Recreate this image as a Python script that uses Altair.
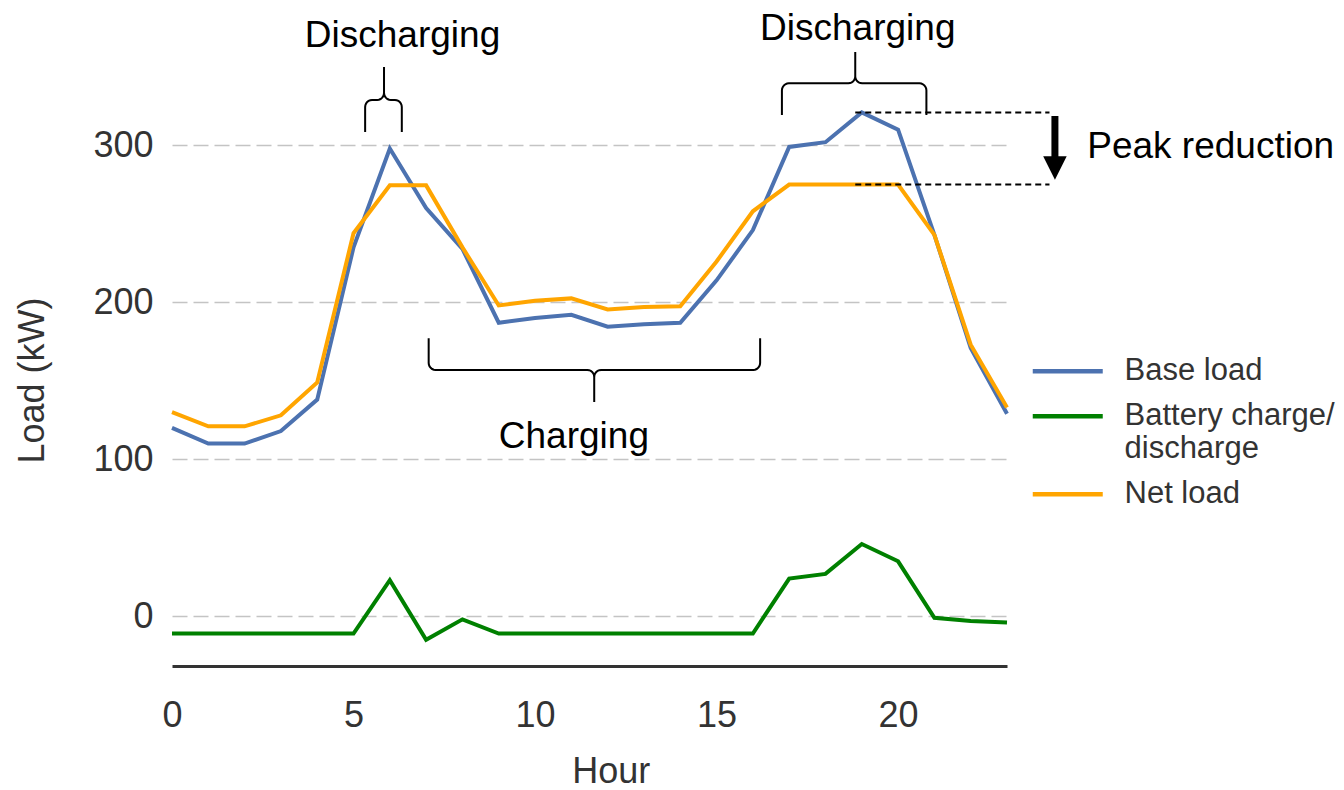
import math
import altair as alt
import pandas as pd

# ---------------- data ----------------
hours = list(range(24))
base_load = [120, 110, 110, 118, 138, 235, 298, 260, 234, 187, 190, 192,
             184.5, 186, 187, 214, 246, 299, 302, 321, 310, 243, 171, 129]
battery = [-11, -11, -11, -11, -11, -11, 23, -15, -2, -11, -11, -11,
           -11, -11, -11, -11, -11, 24, 27, 46, 35, -1, -3, -4]
net_load = [130, 121, 121, 128, 149, 244, 274.5, 274.5, 235, 198, 201, 202.5,
            195.5, 197, 197.5, 226, 258, 275, 275, 275, 275, 243, 173, 133]
series_names = ["Base load", "Battery charge/discharge", "Net load"]
series_colors = ["#4C72B0", "#008000", "#FFA500"]
x_ticks = [0, 5, 10, 15, 20]
y_ticks = [0, 100, 200, 300]

# annotation texts: (hour, kW, text)
center_texts = [(6.35, 362.4, "Discharging"), (18.89, 367.1, "Discharging"),
                (11.07, 107.4, "Charging")]
left_texts = [(25.21, 291.7, "Peak reduction")]
# braces: (x_left, x_right, x_tip, y_leg_end, y_bar, y_tip)
braces = [(5.32, 6.33, 5.84, 308.5, 328.9, 349.9),
          (16.80, 20.78, 18.82, 319.3, 339.5, 359.4),
          (7.07, 16.20, 11.63, 177.1, 156.9, 136.5)]
peak_line_x = (18.82, 24.17)
arrow_x = 24.32
arrow_shaft = (318.7, 292.0)
arrow_head_y = 285.5

FONT = "Liberation Sans"

# ---------------- tables ----------------
rows = []
for name, vals in zip(series_names, [base_load, battery, net_load]):
    for h, v in zip(hours, vals):
        rows.append({"hour": h, "load": v, "series": name})
df = pd.DataFrame(rows)

RX, RY = 0.19, 4.5


def brace_points(bid, xl, xr, xc, y_leg, y_bar, y_tip):
    s = 1 if y_tip > y_bar else -1
    pts = [(xl, y_leg)]

    def arc(cx, cy, a0, a1, n=6):
        for i in range(n + 1):
            a = a0 + (a1 - a0) * i / n
            pts.append((cx + RX * math.cos(a), cy + s * RY * math.sin(a)))

    arc(xl + RX, y_bar - s * RY, math.pi, math.pi / 2)
    arc(xc - RX, y_bar + s * RY, -math.pi / 2, 0)
    pts.append((xc, y_tip))
    arc(xc + RX, y_bar + s * RY, math.pi, 1.5 * math.pi)
    arc(xr - RX, y_bar - s * RY, math.pi / 2, 0)
    pts.append((xr, y_leg))
    return [{"bid": bid, "idx": i, "x": p[0], "y": p[1]} for i, p in enumerate(pts)]


brace_rows = []
for i, b in enumerate(braces):
    brace_rows += brace_points(i, *b)
brace_df = pd.DataFrame(brace_rows)

ctext_df = pd.DataFrame(center_texts, columns=["x", "y", "t"])
ltext_df = pd.DataFrame(left_texts, columns=["x", "y", "t"])
peak_df = pd.DataFrame({"y": [max(base_load), max(net_load)],
                        "x": [peak_line_x[0]] * 2, "x2": [peak_line_x[1]] * 2})
shaft_df = pd.DataFrame({"x": [arrow_x], "y": [arrow_shaft[0]], "y2": [arrow_shaft[1]]})
head_df = pd.DataFrame({"x": [arrow_x], "y": [arrow_head_y]})

# ---------------- scales ----------------
xs = alt.Scale(domain=[0, 23], nice=False, zero=False)
ys = alt.Scale(domain=[-31.7, 387.5], nice=False, zero=False)

lines = alt.Chart(df).mark_line(strokeWidth=4).encode(
    x=alt.X("hour:Q", scale=xs,
            axis=alt.Axis(values=x_ticks, format="d", title="Hour", grid=False,
                          ticks=False, labelPadding=32, labelFontSize=36,
                          labelFlush=False,
                          labelColor="#333", labelFont=FONT,
                          domainColor="#333", domainWidth=3,
                          titleFontSize=36, titleFont=FONT, titleFontWeight="normal",
                          titleColor="#333", titleX=438.8, titleY=116.5,
                          titleBaseline="alphabetic", titleAlign="center")),
    y=alt.Y("load:Q", scale=ys,
            axis=alt.Axis(values=y_ticks, title="Load (kW)", grid=True,
                          gridDash=[15, 6], gridColor="#c4c4c4", gridWidth=1.5,
                          ticks=False, domain=False, labelPadding=19,
                          labelFlush=False,
                          labelFontSize=36, labelColor="#333", labelFont=FONT,
                          titleFontSize=36, titleFont=FONT, titleFontWeight="normal",
                          titleColor="#333", titleX=-128.7, titleY=372,
                          titleAngle=270, titleBaseline="alphabetic",
                          titleAlign="center")),
    color=alt.Color("series:N",
                    scale=alt.Scale(domain=series_names, range=series_colors),
                    legend=alt.Legend(title=None, orient="none", legendX=875.75,
                                      legendY=343.25, symbolType="M-2,0L2,0",
                                      symbolSize=1225, symbolStrokeWidth=4.5,
                                      symbolFillColor="transparent",
                                      labelFontSize=31, labelFont=FONT,
                                      labelColor="#333", labelOffset=36.75,
                                      rowPadding=10, labelLimit=400,
                                      labelExpr="datum.label == 'Battery charge/discharge' ? ['Battery charge/', 'discharge'] : datum.label")),
    detail="series:N",
)

brace_layer = alt.Chart(brace_df).mark_line(strokeWidth=2, color="black").encode(
    x=alt.X("x:Q", scale=xs), y=alt.Y("y:Q", scale=ys),
    detail="bid:N", order="idx:Q")

ctext = alt.Chart(ctext_df).mark_text(fontSize=37, font=FONT, color="black",
                                      align="center", baseline="alphabetic").encode(
    x=alt.X("x:Q", scale=xs), y=alt.Y("y:Q", scale=ys), text="t:N")
ltext = alt.Chart(ltext_df).mark_text(fontSize=37, font=FONT, color="black",
                                      align="left", baseline="alphabetic").encode(
    x=alt.X("x:Q", scale=xs), y=alt.Y("y:Q", scale=ys), text="t:N")

peak_lines = alt.Chart(peak_df).mark_rule(strokeWidth=2, color="black",
                                          strokeDash=[6, 4]).encode(
    x=alt.X("x:Q", scale=xs), x2="x2:Q", y=alt.Y("y:Q", scale=ys))
shaft = alt.Chart(shaft_df).mark_rule(strokeWidth=7, color="black").encode(
    x=alt.X("x:Q", scale=xs), y=alt.Y("y:Q", scale=ys), y2="y2:Q")
head = alt.Chart(head_df).mark_point(shape="M-1,-1L1,-1L0,1Z", filled=True,
                                     size=552, color="black", opacity=1).encode(
    x=alt.X("x:Q", scale=xs), y=alt.Y("y:Q", scale=ys))

chart = alt.layer(lines, brace_layer, peak_lines, shaft, head, ctext, ltext).properties(
    width=835, height=658,
    autosize=alt.AutoSizeParams(type="none"),
    padding={"left": 164, "top": 0, "right": 329, "bottom": 124},
).configure_view(stroke=None)

chart.save("out.html", embed_options={"renderer": "svg", "actions": False})
